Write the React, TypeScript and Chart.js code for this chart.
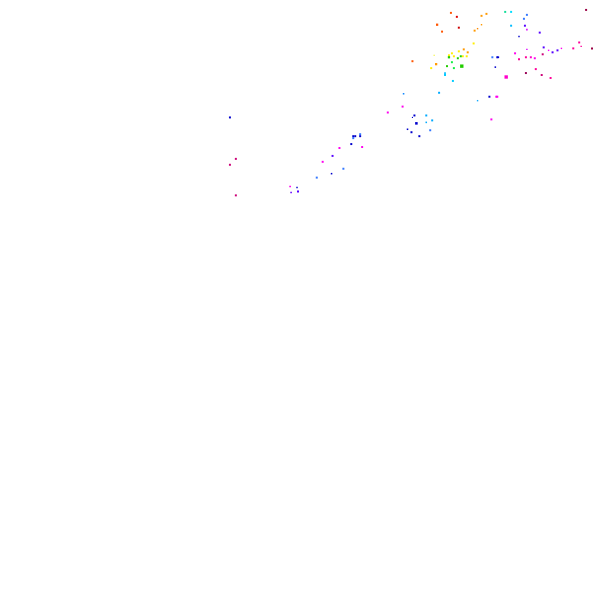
import React, { useEffect, useRef } from "react";
import { Chart, registerables } from "chart.js";

Chart.register(...registerables);

// Point positions (x from left, y from top, in chart units)
const xValues: number[] = [
  // red / orange
  453, 459, 489, 484, 439, 461, 484, 444, 480, 477, 414, 438, 466, 470,
  // yellow
  476, 461, 454, 451, 456, 436, 465, 469, 433,
  // green
  451, 460, 463, 454, 449, 464, 456,
  // cyan
  508, 514, 514, 447, 447, 455, 441, 405, 480, 428, 434, 428,
  // azure
  530, 527, 495, 432, 361, 354, 344, 317,
  // dark blue
  500, 501, 498, 522, 492, 416, 414, 418, 409, 413, 421, 229, 354, 356, 361, 352, 332, 297,
  // purple
  528, 543, 547, 561, 556, 333, 298, 291,
  // magenta
  530, 530, 552, 565, 518, 538, 499, 500, 404, 494, 389, 340, 363, 323, 290, 509,
  // pink
  577, 583, 585, 522, 529, 534, 539, 554,
  // dark pink / maroon
  546, 545, 529, 596, 590, 235, 229, 235,
];

const yValues: number[] = [
  // red / orange
  9, 13, 10, 12, 21, 24, 21, 28, 25, 27, 58, 61, 46, 49,
  // yellow
  40, 48, 50, 52, 53, 52, 53, 53, 65,
  // green
  54, 55, 53, 59, 63, 63, 65,
  // cyan
  8, 8, 22, 70, 72, 78, 90, 91, 98, 113, 118, 120,
  // azure
  11, 15, 54, 128, 132, 136, 167, 176,
  // dark blue
  54, 54, 64, 33, 94, 113, 115, 121, 127, 130, 134, 115, 134, 134, 134, 142, 172, 186,
  // purple
  22, 29, 44, 47, 49, 154, 190, 191,
  // magenta
  26, 46, 47, 45, 50, 55, 94, 94, 104, 117, 110, 146, 145, 160, 185, 74,
  // pink
  45, 39, 43, 56, 54, 54, 66, 75,
  // dark pink / maroon
  51, 72, 70, 45, 6, 157, 163, 194,
];

const pointSizes: number[] = [
  // red / orange
  1.4, 1.4, 1.4, 1.4, 1.6, 1.4, 1.0, 1.4, 1.0, 1.4, 1.4, 1.6, 1.4, 1.4,
  // yellow
  1.4, 1.4, 1.4, 1.4, 1.4, 0.8, 1.4, 1.4, 1.4,
  // green
  1.6, 1.4, 1.4, 1.4, 1.4, 2.4, 1.4,
  // cyan
  1.4, 1.4, 1.4, 1.2, 1.4, 1.4, 1.4, 1.1, 1.0, 1.4, 1.4, 1.1,
  // azure
  1.4, 1.4, 1.4, 1.4, 1.4, 1.4, 1.4, 1.4,
  // dark blue
  1.4, 1.2, 1.1, 1.0, 1.4, 1.4, 0.8, 1.8, 1.1, 1.4, 1.4, 1.4, 1.4, 1.4, 1.4, 1.4, 1.1, 1.0,
  // purple
  1.4, 1.4, 1.4, 1.4, 1.4, 1.4, 1.4, 1.1,
  // magenta
  1.1, 1.0, 1.0, 1.0, 1.4, 1.4, 1.4, 1.4, 1.4, 1.4, 1.4, 1.4, 1.4, 1.4, 1.2, 2.4,
  // pink
  1.4, 1.4, 1.0, 1.4, 1.4, 1.4, 1.4, 1.4,
  // dark pink / maroon
  1.4, 1.4, 1.4, 1.4, 1.4, 1.4, 1.4, 1.4,
];

const pointColors: string[] = [
  // red / orange
  "#ff5500", "#dd0000", "#ff9900", "#ff9900", "#ff5500", "#cc0000", "#ff9900", "#ff5500", "#ff8800", "#ff9900", "#ff5500", "#ff9900", "#ff9900", "#ff9900",
  // yellow
  "#ffee00", "#ffee00", "#ffee00", "#ffee00", "#ffee00", "#eeee00", "#ffee00", "#ffee00", "#ffee00",
  // green
  "#22cc00", "#22cc00", "#22cc00", "#11ee44", "#22cc00", "#22cc00", "#11ee44",
  // cyan
  "#11dd99", "#00ddff", "#00bbff", "#00bbff", "#00ccff", "#00ccff", "#00aaff", "#1188ff", "#11aaff", "#00aaff", "#00aaff", "#00aaff",
  // azure
  "#3377ff", "#3377ff", "#3377ff", "#3377ff", "#3377ff", "#3377ff", "#3377ff", "#3377ff",
  // dark blue
  "#0000cc", "#0000cc", "#0000cc", "#0000cc", "#0000cc", "#0000cc", "#0000cc", "#0000cc", "#0000cc", "#0000cc", "#0000cc", "#0000cc", "#0000cc", "#0000cc", "#0000cc", "#0000cc", "#0000cc", "#0000cc",
  // purple
  "#5500ff", "#5500ff", "#5500ff", "#5500ff", "#5500ff", "#5500ff", "#5500ff", "#6600ff",
  // magenta
  "#dd00ff", "#dd00ff", "#ff00ff", "#ff00ee", "#ff00ee", "#ff00ee", "#ff00ee", "#ff00ee", "#ff00ee", "#ff00ee", "#ff00ee", "#ff00ee", "#ff00ee", "#ff00ee", "#ff00ee", "#ff00cc",
  // pink
  "#ff0099", "#ff0099", "#ff0099", "#ff0099", "#ff0099", "#ff00cc", "#ff0099", "#ff0099",
  // dark pink / maroon
  "#cc0077", "#cc0077", "#990055", "#990044", "#990044", "#cc0077", "#cc0077", "#cc0077",
];

const X_RANGE = [0, 597];
const Y_RANGE = [0, 589];

export default function App() {
  const canvasRef = useRef<HTMLCanvasElement | null>(null);

  useEffect(() => {
    if (!canvasRef.current) return;
    const data = xValues.map((x, i) => ({ x, y: yValues[i], r: pointSizes[i] }));
    const chart = new Chart(canvasRef.current, {
      type: "bubble",
      data: {
        datasets: [
          {
            data,
            backgroundColor: pointColors,
            borderWidth: 0,
            borderColor: "rgba(0,0,0,0)",
            pointStyle: "rect",
          } as any,
        ],
      },
      options: {
        animation: false,
        responsive: false,
        maintainAspectRatio: false,
        devicePixelRatio: 1,
        layout: { padding: 0 },
        plugins: { legend: { display: false }, tooltip: { enabled: false }, title: { display: false } },
        scales: {
          x: { type: "linear", min: X_RANGE[0], max: X_RANGE[1], display: false },
          y: { type: "linear", min: Y_RANGE[0], max: Y_RANGE[1], reverse: true, display: false },
        },
        elements: { point: { pointStyle: "rect" } },
      } as any,
    });
    return () => chart.destroy();
  }, []);

  return (
    <div style={{ position: "fixed", left: 0, top: 0, width: 597, height: 589, background: "#ffffff" }}>
      <canvas ref={canvasRef} width={597} height={589} style={{ display: "block" }} />
    </div>
  );
}
